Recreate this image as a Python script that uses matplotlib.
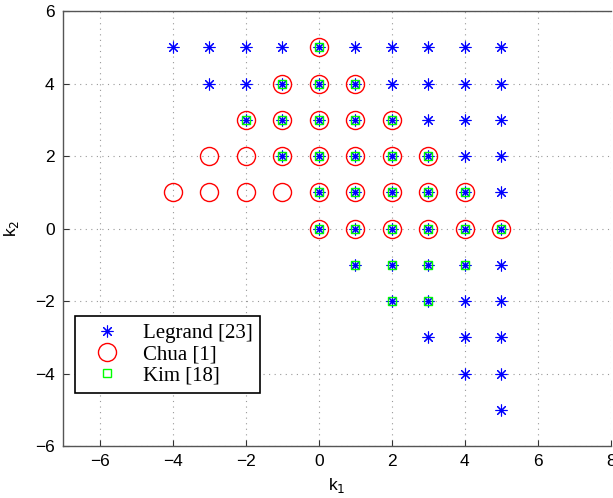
import matplotlib
matplotlib.use("Agg")
import matplotlib.pyplot as plt

# Legrand [23]
legrand_k1 = [-4, -3, -2, -1, 0, 1, 2, 3, 4, 5,
              -3, -2, -1, 0, 1, 2, 3, 4, 5,
              -2, -1, 0, 1, 2, 3, 4, 5,
              -1, 0, 1, 2, 3, 4, 5,
              0, 1, 2, 3, 4, 5,
              0, 1, 2, 3, 4, 5,
              1, 2, 3, 4, 5,
              2, 3, 4, 5,
              3, 4, 5,
              4, 5,
              5]
legrand_k2 = [5]*10 + [4]*9 + [3]*8 + [2]*7 + [1]*6 + [0]*6 + [-1]*5 + [-2]*4 + [-3]*3 + [-4]*2 + [-5]*1

# Chua [1]
chua_k1 = [0,
           -1, 0, 1,
           -2, -1, 0, 1, 2,
           -3, -2, -1, 0, 1, 2, 3,
           -4, -3, -2, -1, 0, 1, 2, 3, 4,
           0, 1, 2, 3, 4, 5]
chua_k2 = [5]*1 + [4]*3 + [3]*5 + [2]*7 + [1]*9 + [0]*6

# Kim [18]
kim_k1 = [0,
          -1, 0, 1,
          -2, -1, 0, 1, 2,
          -1, 0, 1, 2, 3,
          0, 1, 2, 3, 4,
          0, 1, 2, 3, 4, 5,
          1, 2, 3, 4,
          2, 3]
kim_k2 = [5]*1 + [4]*3 + [3]*5 + [2]*5 + [1]*5 + [0]*6 + [-1]*4 + [-2]*2

labels = ["Legrand [23]", "Chua [1]", "Kim [18]"]
xticks = [-6, -4, -2, 0, 2, 4, 6, 8]
yticks = [-6, -4, -2, 0, 2, 4, 6]

W, H = 613, 498
fig = plt.figure(figsize=(W/100, H/100), dpi=100)
ax = fig.add_axes([63/W, 1 - 446/H, (611-63)/W, (446-11)/H])

ax.plot(legrand_k1, legrand_k2, linestyle='none', marker=(8, 2, 0), markersize=8.5,
        markeredgewidth=0.8, color='#0000ff', label=labels[0])
ax.plot(chua_k1, chua_k2, linestyle='none', marker='o', markersize=13,
        markerfacecolor='none', markeredgecolor='#ff0000', markeredgewidth=1.0, label=labels[1])
ax.plot(kim_k1, kim_k2, linestyle='none', marker='s', markersize=5.5,
        markerfacecolor='none', markeredgecolor='#00ff00', markeredgewidth=1.0, label=labels[2])

ax.set_xlim(-7, 8)
ax.set_ylim(-6, 6)
ax.set_xticks(xticks)
ax.set_yticks(yticks)
ax.set_xticklabels([str(t).replace('-', '\u2212') for t in xticks], family='Liberation Sans', fontsize=12.5)
ax.set_yticklabels([str(t).replace('-', '\u2212') for t in yticks], family='Liberation Sans', fontsize=12.5)
ax.tick_params(direction='in', length=4, width=0.8, color='#333333', pad=6)
ax.grid(True, linestyle=(0, (1, 4)), color='#999999', linewidth=0.8)
for s in ['left', 'bottom', 'top']:
    ax.spines[s].set_color('#555555')
    ax.spines[s].set_linewidth(1.0)
ax.spines['right'].set_visible(False)

ax.set_xlabel('k$_1$', family='Liberation Sans', fontsize=12.5, labelpad=5)
ax.set_ylabel('k$_2$', family='Liberation Sans', fontsize=12.5, labelpad=10)

leg = ax.legend(loc='upper left', bbox_to_anchor=(12/548, 1 - (316-11)/435),
                prop={'family': 'Liberation Serif', 'size': 15}, fancybox=False,
                edgecolor='black', framealpha=1, borderpad=0.35, labelspacing=0.08,
                handletextpad=0.5, borderaxespad=0, handlelength=2.4)
leg.get_frame().set_linewidth(1.2)

fig.savefig('out.png', dpi=100)
